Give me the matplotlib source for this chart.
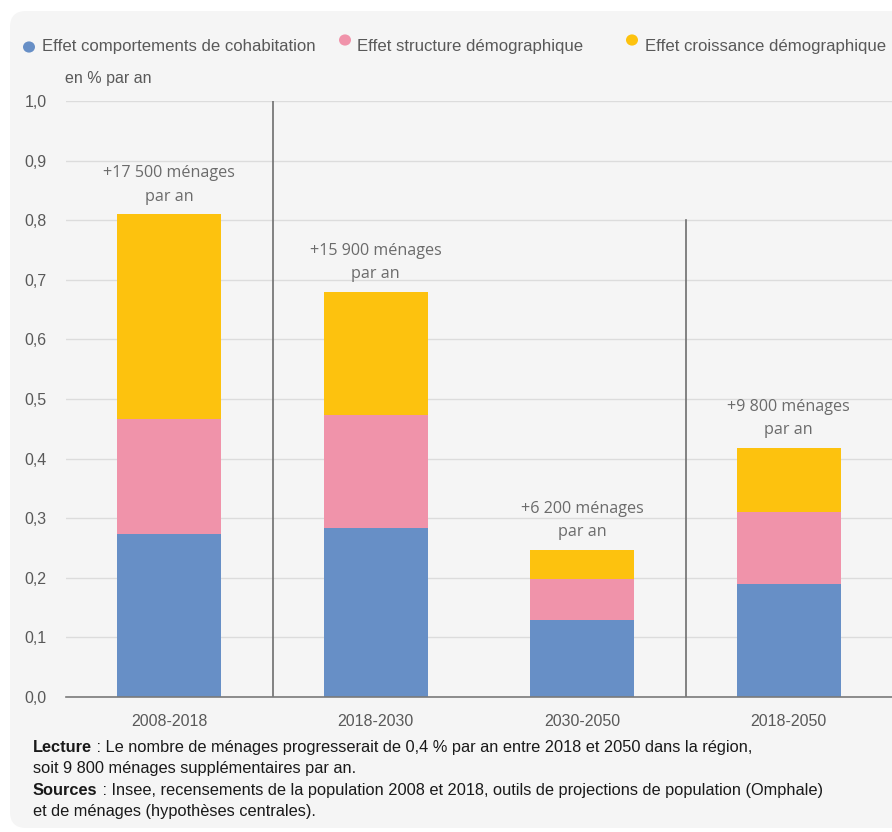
import matplotlib
matplotlib.use("Agg")
import matplotlib.pyplot as plt
from matplotlib.patches import FancyBboxPatch, Circle
import numpy as np

periods = ["2008-2018", "2018-2030", "2030-2050", "2018-2050"]
cohabitation = [0.274, 0.284, 0.129, 0.190]
structure = [0.192, 0.189, 0.069, 0.120]
croissance = [0.344, 0.207, 0.049, 0.108]
labels = ["+17 500 ménages\npar an", "+15 900 ménages\npar an",
          "+6 200 ménages\npar an", "+9 800 ménages\npar an"]
series_names = ["Effet comportements de cohabitation",
                "Effet structure démographique",
                "Effet croissance démographique"]
yticks = [0.0, 0.1, 0.2, 0.3, 0.4, 0.5, 0.6, 0.7, 0.8, 0.9, 1.0]
separators = [(0.5, 1.0), (2.5, 0.8)]

colors = ["#678fc6", "#f093aa", "#fdc20e"]
narrow = ["Liberation Sans", "DejaVu Sans"]
regular = ["Open Sans", "DejaVu Sans"]
txtc = "#595959"

W, H = 892, 832
fig = plt.figure(figsize=(W / 100, H / 100), dpi=100)
fig.patch.set_facecolor("white")
panel = FancyBboxPatch((10 / W, 4 / H), (W + 30) / W, (817) / H,
                       boxstyle="round,pad=0,rounding_size=0.018",
                       transform=fig.transFigure, facecolor="#f5f5f5",
                       edgecolor="none", zorder=-10, mutation_aspect=W / H)
fig.patches.append(panel)

ax = fig.add_axes([66 / W, 1 - 697 / H, (W - 66) / W, (697 - 101) / H])
ax.set_zorder(1)
ax.set_facecolor("none")
x = np.arange(len(periods))
bw = 0.504
ax.bar(x, cohabitation, bw, color=colors[0], zorder=3)
ax.bar(x, structure, bw, bottom=cohabitation, color=colors[1], zorder=3)
bot2 = np.array(cohabitation) + np.array(structure)
ax.bar(x, croissance, bw, bottom=bot2, color=colors[2], zorder=3)
tops = bot2 + np.array(croissance)

for xi, t, lab in zip(x, tops, labels):
    ax.annotate(lab, (xi, t), xytext=(0, 7), textcoords="offset points",
                ha="center", va="bottom", fontsize=11.6, color="#6b6b6b",
                family=regular, linespacing=1.6, zorder=4)

for sx, sy in separators:
    ax.plot([sx, sx], [0, sy], color="#6e6e6e", lw=1.2, zorder=4)

ax.set_xlim(-0.5, len(periods) - 0.5)
ax.set_ylim(0, 1.0)
ax.set_yticks(yticks)
ax.set_yticklabels([f"{v:.1f}".replace(".", ",") for v in yticks],
                   family=narrow, fontsize=11.5, color=txtc)
ax.set_xticks(x)
ax.set_xticklabels(periods, family=narrow, fontsize=11.5, color=txtc)
ax.tick_params(axis="y", length=0, pad=14)
ax.tick_params(axis="x", length=0, pad=12)
ax.grid(axis="y", color="#dcdcdc", lw=1, zorder=1)
ax.set_axisbelow(True)
for s in ["top", "right", "left"]:
    ax.spines[s].set_visible(False)
ax.spines["bottom"].set_color("#7a7a7a")
ax.spines["bottom"].set_linewidth(1.2)
ax.spines["bottom"].set_zorder(5)

# legend (manual)
leg_items = [(29, 47, 42), (345, 40, 357), (632, 40, 645)]
for (mx, my, tx), name, c in zip(leg_items, series_names, colors):
    fig.patches.append(Circle((mx / W, 1 - my / H), 6 / W, transform=fig.transFigure,
                              facecolor=c, edgecolor="none", zorder=3))
    fig.text(tx / W, 1 - 47 / H, name, family=narrow, fontsize=12.1,
             color=txtc, va="center", ha="left")

fig.text(65 / W, 1 - 78 / H, "en % par an", family=narrow, fontsize=11.5,
         color=txtc, va="center", ha="left")

# footer
fs = 11.8
foot = [("Lecture", " : Le nombre de ménages progresserait de 0,4 % par an entre 2018 et 2050 dans la région,", 752),
        (None, "soit 9 800 ménages supplémentaires par an.", 773),
        ("Sources", " : Insee, recensements de la population 2008 et 2018, outils de projections de population (Omphale)", 795),
        (None, "et de ménages (hypothèses centrales).", 816)]
renderer = fig.canvas.get_renderer()
for b, rest, yy in foot:
    x0 = 33
    if b:
        t = fig.text(x0 / W, 1 - yy / H, b, family=narrow, fontsize=fs,
                     weight="bold", color="#1a1a1a", va="baseline", ha="left")
        x0 += t.get_window_extent(renderer).width
    fig.text(x0 / W, 1 - yy / H, rest, family=narrow, fontsize=fs,
             color="#1a1a1a", va="baseline", ha="left")

fig.savefig("out.png", dpi=100, facecolor=fig.get_facecolor())
